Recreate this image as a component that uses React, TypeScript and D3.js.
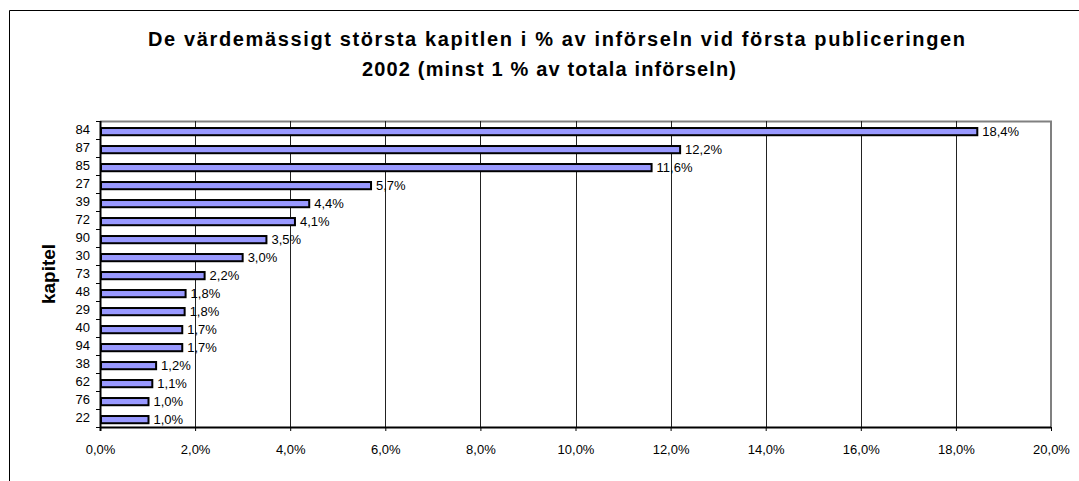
import { useEffect, useRef } from "react";
import * as d3 from "d3";

// chapter codes, top to bottom
const chapters = ["84", "87", "85", "27", "39", "72", "90", "30", "73", "48", "29", "40", "94", "38", "62", "76", "22"];
// share of imports, %
const shares = [18.45, 12.2, 11.6, 5.7, 4.4, 4.1, 3.5, 3.0, 2.2, 1.8, 1.78, 1.73, 1.73, 1.18, 1.1, 1.02, 1.02];
const xTicks = [0, 2, 4, 6, 8, 10, 12, 14, 16, 18, 20];
const titleLines = [
  "De värdemässigt största kapitlen i % av införseln vid första publiceringen",
  "2002 (minst 1 % av totala införseln)",
];

const fmt = (v: number) => v.toFixed(1).replace(".", ",") + "%";

const App = () => {
  const ref = useRef<SVGSVGElement | null>(null);

  useEffect(() => {
    const width = 1079,
      height = 481;
    const margin = { top: 121, right: 28, bottom: 54, left: 100 };
    const innerW = width - margin.left - margin.right;
    const innerH = height - margin.top - margin.bottom;

    const svg = d3.select(ref.current);
    svg.selectAll("*").remove();
    const font = "Arial, 'Liberation Sans', sans-serif";

    // outer frame (cut off at right and bottom)
    svg
      .append("path")
      .attr("d", `M9.5,${height} V10.5 H${width}`)
      .attr("fill", "none")
      .attr("stroke", "#000")
      .attr("stroke-width", 1);

    // title, stretched like the spreadsheet rendering
    const titleX = [148, 362];
    const titleW = [817, 374];
    svg
      .append("g")
      .selectAll("text")
      .data(titleLines)
      .join("text")
      .attr("x", (d, i) => titleX[i])
      .attr("y", (d, i) => 46 + i * 30)
      .attr("textLength", (d, i) => titleW[i])
      .attr("lengthAdjust", "spacing")
      .attr("font-family", font)
      .attr("font-weight", "bold")
      .attr("font-size", 20)
      .text((d) => d);

    const chart = svg.append("g").attr("transform", `translate(${margin.left},${margin.top})`);

    const x = d3.scaleLinear().domain([0, 20]).range([0, innerW]);
    const y = d3.scaleBand().domain(chapters).range([0, innerH]);

    // plot border top/right
    chart
      .append("path")
      .attr("d", `M0,0.5 H${innerW} V${innerH}`)
      .attr("fill", "none")
      .attr("stroke", "#808080")
      .attr("stroke-width", 2);

    // gridlines
    chart
      .append("g")
      .selectAll("line")
      .data(xTicks.slice(1, -1))
      .join("line")
      .attr("x1", (d) => Math.round(x(d)) + 0.5)
      .attr("x2", (d) => Math.round(x(d)) + 0.5)
      .attr("y1", 0)
      .attr("y2", innerH)
      .attr("stroke", "#222")
      .attr("stroke-width", 1);

    // bars
    const bh = y.bandwidth() * 0.4;
    chart
      .append("g")
      .selectAll("rect")
      .data(chapters)
      .join("rect")
      .attr("x", 1)
      .attr("y", (d) => (y(d) ?? 0) + y.bandwidth() * 0.39)
      .attr("width", (d, i) => x(shares[i]) - 1)
      .attr("height", bh)
      .attr("fill", "#9999FF")
      .attr("stroke", "#000")
      .attr("stroke-width", 2);

    // value labels
    chart
      .append("g")
      .selectAll("text")
      .data(chapters)
      .join("text")
      .attr("x", (d, i) => x(shares[i]) + 5)
      .attr("y", (d) => (y(d) ?? 0) + y.bandwidth() * 0.59)
      .attr("dy", "0.35em")
      .attr("font-family", font)
      .attr("font-size", 13)
      .text((d, i) => fmt(shares[i]));

    // y axis
    const yAxis = chart
      .append("g")
      .call(d3.axisLeft(y).tickSize(0).tickPadding(10))
      .call((g) => g.select(".domain").remove());
    yAxis.selectAll("text").attr("font-family", font).attr("font-size", 13).attr("fill", "#000");
    chart
      .append("g")
      .selectAll("line")
      .data(d3.range(chapters.length + 1))
      .join("line")
      .attr("x1", -4)
      .attr("x2", 0)
      .attr("y1", (i) => Math.round(i * y.step()) + 0.5)
      .attr("y2", (i) => Math.round(i * y.step()) + 0.5)
      .attr("stroke", "#000");
    chart
      .append("line")
      .attr("x1", 0.5)
      .attr("x2", 0.5)
      .attr("y1", 0)
      .attr("y2", innerH + 4)
      .attr("stroke", "#000")
      .attr("stroke-width", 2);

    // x axis
    const xAxis = chart
      .append("g")
      .attr("transform", `translate(0,${innerH})`)
      .call(
        d3
          .axisBottom(x)
          .tickValues(xTicks)
          .tickSize(4)
          .tickPadding(14)
          .tickFormat((d) => fmt(+d))
      );
    xAxis.select(".domain").attr("stroke", "#000").attr("stroke-width", 2).attr("d", `M0,0.5H${innerW}`);
    xAxis.selectAll("line").attr("stroke", "#000");
    xAxis.selectAll("text").attr("font-family", font).attr("font-size", 13).attr("fill", "#000");

    // y axis title
    svg
      .append("text")
      .attr("transform", `translate(55,${margin.top + innerH / 2}) rotate(-90)`)
      .attr("text-anchor", "middle")
      .attr("font-family", font)
      .attr("font-weight", "bold")
      .attr("font-size", 19)
      .text("kapitel");
  }, []);

  return (
    <svg
      ref={ref}
      width={1079}
      height={481}
      style={{ position: "absolute", left: 0, top: 0, background: "#fff" }}
    />
  );
};

export default App;
